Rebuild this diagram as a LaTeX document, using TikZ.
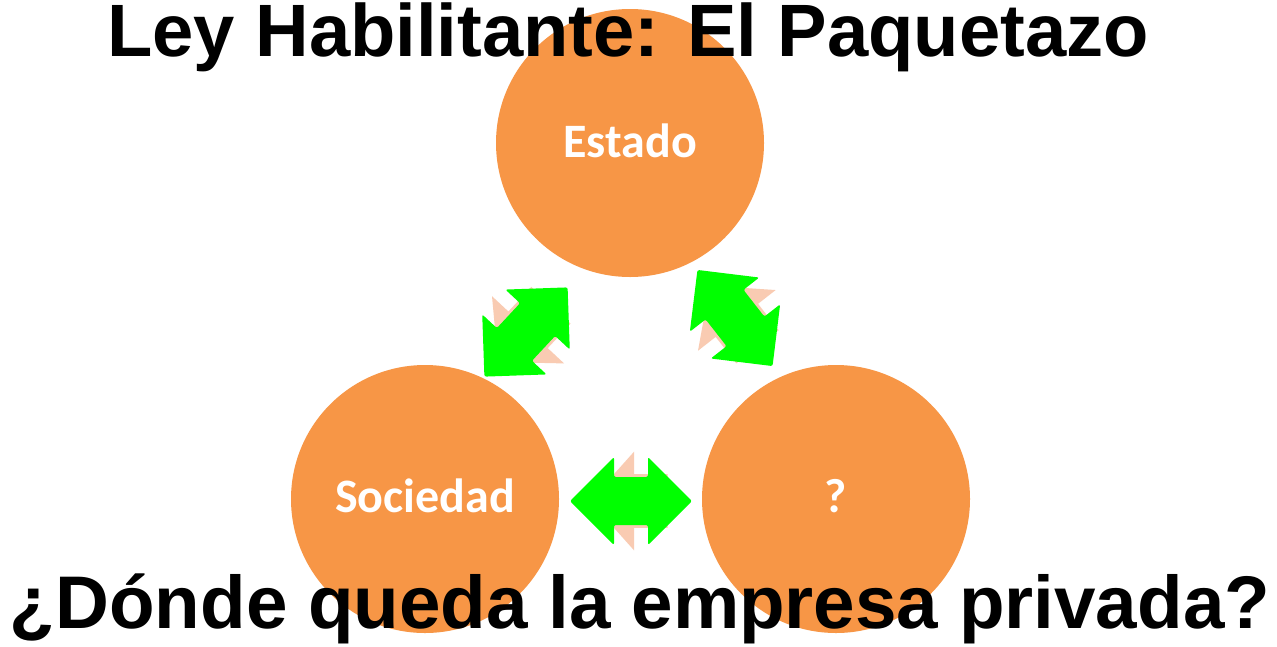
\documentclass[tikz,border=0pt]{standalone}
\usepackage{fontspec}
\setmainfont{Liberation Sans}
\newfontfamily\carlito{Carlito}
\definecolor{circ}{HTML}{F79646}
\definecolor{grn}{HTML}{00FF00}
\definecolor{peach}{HTML}{F9CBB2}
\tikzset{
  circnode/.style={circle, fill=circ, minimum size=268pt, inner sep=0pt},
  circlabel/.style={text=white, font=\carlito\bfseries\fontsize{48}{52}\selectfont, anchor=base},
  titletext/.style={font=\bfseries\fontsize{74.2}{80}\selectfont, anchor=base},
  bottomtext/.style={font=\bfseries\fontsize{74.6}{80}\selectfont, anchor=base},
}
\newcommand{\dblarrowshape}{(-61pt,0pt) -- (-17pt,44pt) -- (-17pt,24pt) -- (17pt,24pt) -- (17pt,44pt) -- (61pt,0pt) -- (17pt,-44pt) -- (17pt,-24pt) -- (-17pt,-24pt) -- (-17pt,-44pt) -- cycle}
\newcommand{\dblarrow}[3]{%
  \begin{scope}[shift={(#1,#2)}, rotate=#3]
    \begin{scope}
      \clip (-70pt,-70pt) rectangle (36.5pt,70pt);
      \fill[peach, xshift=20pt, yscale=1.12] \dblarrowshape;
    \end{scope}
    \fill[grn, rounded corners=2pt] \dblarrowshape;
  \end{scope}}
\begin{document}
\begin{tikzpicture}[x=1pt,y=-1pt]
\useasboundingbox (0,0) rectangle (1277,646);
\fill[white] (0,0) rectangle (1277,646);
\node[circnode] (estado) at (630,143) {};
\node[circnode] (sociedad) at (425,499) {};
\node[circnode] (q) at (836,499) {};
\node[circlabel] (lestado) at (630,157) {Estado};
\node[circlabel] (lsociedad) at (425,512) {Sociedad};
\node[circlabel] (lq) at (836,512) {?};
\dblarrow{526}{332}{47}
\dblarrow{735}{318}{-52}
\dblarrow{631}{501}{0}
\node[titletext] (title) at (628,56) {Ley Habilitante: El Paquetazo};
\node[bottomtext] (bottom) at (640,628) {¿Dónde queda la empresa privada?};
\end{tikzpicture}
\end{document}
